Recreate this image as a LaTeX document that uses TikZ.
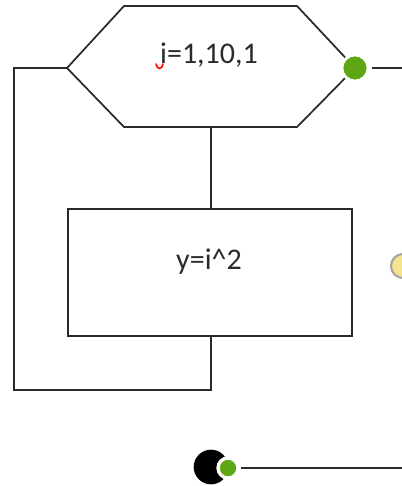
\documentclass[tikz,border=0pt]{standalone}
\usepackage{fontspec}
\setmainfont{Carlito}
\definecolor{linec}{HTML}{2A2A2A}
\definecolor{dotgreen}{HTML}{5FA614}
\definecolor{dotyellow}{HTML}{F3E38A}
\begin{document}
\begin{tikzpicture}[x=0.75pt,y=-0.75pt,
  ln/.style={draw=linec,line width=1.3pt},
  gdot/.style={circle,fill=dotgreen,draw=white,line width=2pt,minimum size=19.5pt,inner sep=0pt},
  lbl/.style={font=\fontsize{22.5}{26}\selectfont,text=linec}]
\useasboundingbox (0,0) rectangle (402,486);
\begin{scope}
\clip (0,0) rectangle (402,486);
\node[circle,fill=dotyellow,draw=gray!70,line width=1.6pt,minimum size=18pt,inner sep=0pt] (yc) at (403,266) {};
\end{scope}
% hexagon
\coordinate (hl) at (67,68);
\coordinate (hr) at (355,68);
\coordinate (hb) at (211,127);
\draw[ln] (hl) -- (124,6) -- (297,6) -- (hr) -- (297,127) -- (124,127) -- cycle;
\node[lbl] (ht) at (209,55) {i=1,10,1};
\draw[red,line width=1.2pt,line cap=round] (156,64) .. controls (157,70) and (162,70) .. (163,64);
% rectangle
\node[ln,minimum width=213pt,minimum height=95.25pt,inner sep=0pt] (rb) at (210,272.5) {};
\node[lbl] (rt) at (209,262) {y=i\textasciicircum{}2};
\draw[ln] (hb) -- (hb |- rb.north);
% loop
\coordinate (l1) at (14,68);
\coordinate (l2) at (14,390);
\coordinate (l3) at (211,390);
\draw[ln] (hl) -- (l1) -- (l2) -- (l3) -- (l3 |- rb.south);
% right output
\node[gdot] (g1) at (hr) {};
\coordinate (e1) at (402,68);
\draw[ln] (g1.east) ++(2pt,0) -- (e1);
% bottom terminal
\node[circle,fill=black,minimum size=26pt,inner sep=0pt] (bk) at (211,467) {};
\node[gdot,minimum size=15pt,line width=2.5pt] (g2) at (228,468) {};
\coordinate (e2) at (402,468);
\draw[ln] (g2.east) ++(1pt,0) -- (e2);
\end{tikzpicture}
\end{document}
